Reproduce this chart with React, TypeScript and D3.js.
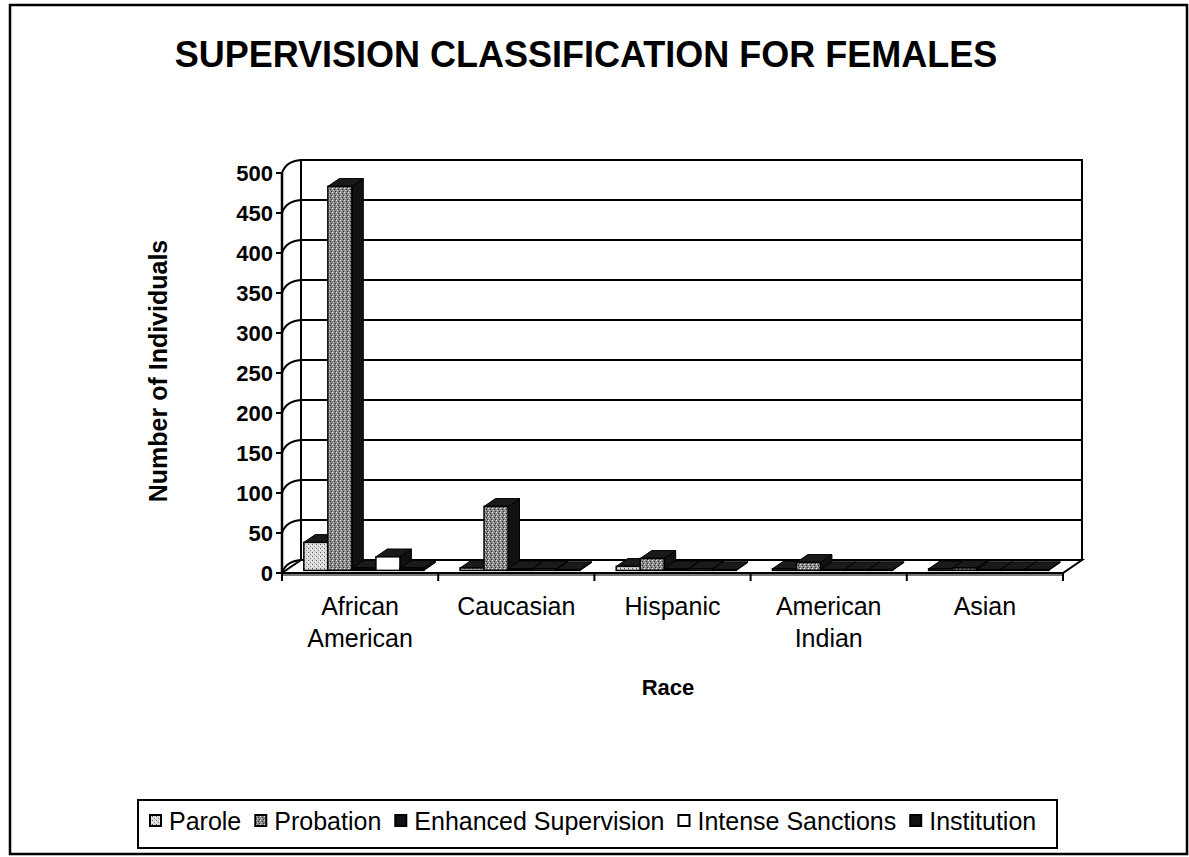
import { useEffect, useRef } from "react";
import * as d3 from "d3";

const categories = ["African American", "Caucasian", "Hispanic", "American Indian", "Asian"];
const seriesNames = ["Parole", "Probation", "Enhanced Supervision", "Intense Sanctions", "Institution"];
const parole = [35, 3, 5, 2, 2];
const probation = [480, 80, 15, 10, 3];
const enhanced = [3, 2, 2, 1, 1];
const intense = [17, 2, 2, 1, 1];
const institution = [3, 1, 1, 1, 1];
const yTicks = [0, 50, 100, 150, 200, 250, 300, 350, 400, 450, 500];

const W = 1189;
const H = 857;
const FONT = "'Liberation Sans', Arial, sans-serif";

export default function App() {
  const svgRef = useRef<SVGSVGElement>(null);

  useEffect(() => {
    const svg = d3.select(svgRef.current);
    svg.selectAll("*").remove();

    const values = [parole, probation, enhanced, intense, institution];
    // front plane of the 3d box
    const x0 = 282;
    const x1 = 1063;
    const DX = 19;
    const DY = -13;
    const y = d3.scaleLinear().domain([0, 500]).range([573, 173]);
    const xCat = d3.scaleBand().domain(categories).range([x0, x1]);
    const xSer = d3
      .scaleBand()
      .domain(seriesNames)
      .range([0, xCat.bandwidth()])
      .paddingOuter(0.75);

    const defs = svg.append("defs");
    const p1 = defs
      .append("pattern")
      .attr("id", "pParole")
      .attr("width", 4)
      .attr("height", 4)
      .attr("patternUnits", "userSpaceOnUse");
    p1.append("rect").attr("width", 4).attr("height", 4).attr("fill", "#dcdcdc");
    p1.append("rect").attr("x", 0).attr("y", 0).attr("width", 1).attr("height", 1).attr("fill", "#555");
    p1.append("rect").attr("x", 2).attr("y", 2).attr("width", 1).attr("height", 1).attr("fill", "#888");
    p1.append("rect").attr("x", 3).attr("y", 1).attr("width", 1).attr("height", 1).attr("fill", "#fff");

    const p2 = defs
      .append("pattern")
      .attr("id", "pProb")
      .attr("width", 4)
      .attr("height", 4)
      .attr("patternUnits", "userSpaceOnUse");
    p2.append("rect").attr("width", 4).attr("height", 4).attr("fill", "#8a8a8a");
    p2.append("rect").attr("x", 0).attr("y", 0).attr("width", 1).attr("height", 1).attr("fill", "#eee");
    p2.append("rect").attr("x", 2).attr("y", 1).attr("width", 1).attr("height", 1).attr("fill", "#222");
    p2.append("rect").attr("x", 1).attr("y", 2).attr("width", 1).attr("height", 1).attr("fill", "#ccc");
    p2.append("rect").attr("x", 3).attr("y", 3).attr("width", 1).attr("height", 1).attr("fill", "#333");

    const frontFill = ["url(#pParole)", "url(#pProb)", "#111", "#fff", "#111"];

    svg
      .append("rect")
      .attr("x", 10)
      .attr("y", 5)
      .attr("width", 1177)
      .attr("height", 849)
      .attr("fill", "#fff")
      .attr("stroke", "#000")
      .attr("stroke-width", 2.5);

    svg
      .append("text")
      .attr("x", 586)
      .attr("y", 67)
      .attr("text-anchor", "middle")
      .attr("font-family", FONT)
      .attr("font-weight", "bold")
      .attr("font-size", 36)
      .text("SUPERVISION CLASSIFICATION FOR FEMALES");

    const g = svg.append("g");

    // back wall
    g.append("rect")
      .attr("x", x0 + DX)
      .attr("y", y(500) + DY)
      .attr("width", x1 - x0)
      .attr("height", y(0) - y(500))
      .attr("fill", "#fff")
      .attr("stroke", "#000")
      .attr("stroke-width", 2);

    g.selectAll(".grid")
      .data(yTicks)
      .enter()
      .append("line")
      .attr("x1", x0 + DX)
      .attr("x2", x1 + DX)
      .attr("y1", (d) => y(d) + DY)
      .attr("y2", (d) => y(d) + DY)
      .attr("stroke", "#000")
      .attr("stroke-width", 2);

    // side wall, slightly bowed lines like the original
    g.selectAll(".side")
      .data(yTicks)
      .enter()
      .append("path")
      .attr("d", (d) => `M${x0},${y(d)}Q${x0 + 4},${y(d) + DY + 1} ${x0 + DX},${y(d) + DY}`)
      .attr("fill", "none")
      .attr("stroke", "#000")
      .attr("stroke-width", 2);
    g.append("line")
      .attr("x1", x0 + DX)
      .attr("x2", x0 + DX)
      .attr("y1", y(500) + DY)
      .attr("y2", y(0) + DY)
      .attr("stroke", "#000")
      .attr("stroke-width", 2);

    // floor
    g.append("path")
      .attr(
        "d",
        `M${x0},${y(0)}L${x1},${y(0)}L${x1 + DX},${y(0) + DY}L${x0 + DX},${y(0) + DY}Z`,
      )
      .attr("fill", "#fff")
      .attr("stroke", "#000")
      .attr("stroke-width", 2);
    g.append("line")
      .attr("x1", x0)
      .attr("x2", x1)
      .attr("y1", y(0) + 2)
      .attr("y2", y(0) + 2)
      .attr("stroke", "#777")
      .attr("stroke-width", 2);

    // y axis
    g.append("line")
      .attr("x1", x0)
      .attr("x2", x0)
      .attr("y1", y(500))
      .attr("y2", y(0))
      .attr("stroke", "#000")
      .attr("stroke-width", 2.5);
    g.selectAll(".ytick")
      .data(yTicks)
      .enter()
      .append("line")
      .attr("x1", x0 - 6)
      .attr("x2", x0)
      .attr("y1", (d) => y(d))
      .attr("y2", (d) => y(d))
      .attr("stroke", "#000")
      .attr("stroke-width", 2);
    g.selectAll(".ylab")
      .data(yTicks)
      .enter()
      .append("text")
      .attr("x", x0 - 9)
      .attr("y", (d) => y(d))
      .attr("dy", "0.36em")
      .attr("text-anchor", "end")
      .attr("font-family", FONT)
      .attr("font-weight", "bold")
      .attr("font-size", 22)
      .text((d) => d);

    // category ticks
    const catEdges = categories.map((c) => xCat(c)!).concat([x1]);
    g.selectAll(".xtick")
      .data(catEdges)
      .enter()
      .append("line")
      .attr("x1", (d) => d)
      .attr("x2", (d) => d)
      .attr("y1", y(0))
      .attr("y2", y(0) + 8)
      .attr("stroke", "#000")
      .attr("stroke-width", 2);

    // bars
    const fs = 0.2;
    const fe = 0.8;
    const bdx = DX * (fe - fs);
    const bdy = DY * (fe - fs);
    categories.forEach((c, i) => {
      seriesNames.forEach((s, j) => {
        const v = values[j][i];
        const xl = xCat(c)! + xSer(s)! + DX * fs;
        const xr = xl + xSer.bandwidth();
        const base = y(0) + DY * fs;
        const top = base - (y(0) - y(v));
        const bg = g.append("g");
        bg.append("path")
          .attr("d", `M${xr},${top}L${xr + bdx},${top + bdy}L${xr + bdx},${base + bdy}L${xr},${base}Z`)
          .attr("fill", "#111")
          .attr("stroke", "#000")
          .attr("stroke-width", 1);
        bg.append("path")
          .attr("d", `M${xl},${top}L${xr},${top}L${xr + bdx},${top + bdy}L${xl + bdx},${top + bdy}Z`)
          .attr("fill", "#1a1a1a")
          .attr("stroke", "#000")
          .attr("stroke-width", 1);
        bg.append("rect")
          .attr("x", xl)
          .attr("y", top)
          .attr("width", xr - xl)
          .attr("height", base - top)
          .attr("fill", frontFill[j])
          .attr("stroke", "#000")
          .attr("stroke-width", 1.5);
      });
    });

    // category labels
    categories.forEach((c) => {
      const words = c.split(" ");
      const t = g
        .append("text")
        .attr("x", xCat(c)! + xCat.bandwidth() / 2)
        .attr("y", 615)
        .attr("text-anchor", "middle")
        .attr("font-family", FONT)
        .attr("font-size", 25);
      words.forEach((w, k) => {
        t.append("tspan")
          .attr("x", xCat(c)! + xCat.bandwidth() / 2)
          .attr("dy", k === 0 ? 0 : 32)
          .text(w);
      });
    });

    svg
      .append("text")
      .attr("x", 668)
      .attr("y", 695)
      .attr("text-anchor", "middle")
      .attr("font-family", FONT)
      .attr("font-weight", "bold")
      .attr("font-size", 22)
      .text("Race");

    svg
      .append("text")
      .attr("transform", "translate(167,371) rotate(-90)")
      .attr("text-anchor", "middle")
      .attr("font-family", FONT)
      .attr("font-weight", "bold")
      .attr("font-size", 25)
      .text("Number of Individuals");

    // legend
    svg
      .append("rect")
      .attr("x", 138)
      .attr("y", 800)
      .attr("width", 919)
      .attr("height", 48)
      .attr("fill", "#fff")
      .attr("stroke", "#000")
      .attr("stroke-width", 2);
    let lx = 150;
    seriesNames.forEach((s, j) => {
      svg
        .append("rect")
        .attr("x", lx)
        .attr("y", 815)
        .attr("width", 11)
        .attr("height", 11)
        .attr("fill", frontFill[j])
        .attr("stroke", "#000")
        .attr("stroke-width", 2);
      const t = svg
        .append("text")
        .attr("x", lx + 19)
        .attr("y", 830)
        .attr("font-family", FONT)
        .attr("font-size", 25)
        .text(s);
      const len = (t.node() as SVGTextElement).getComputedTextLength();
      lx += 19 + len + 14;
    });
  }, []);

  return (
    <svg
      ref={svgRef}
      width={W}
      height={H}
      style={{ position: "absolute", left: 0, top: 0, background: "#fff" }}
    />
  );
}
